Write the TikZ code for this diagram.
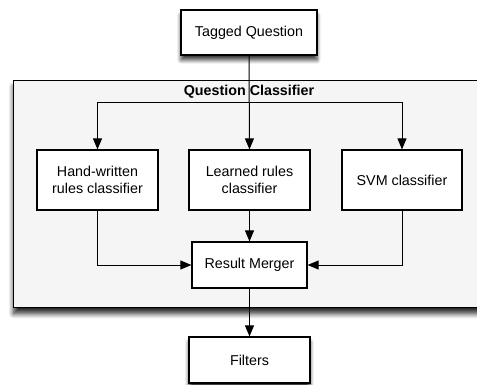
\documentclass[tikz,border=0pt]{standalone}
\usepackage{fontspec}
\setmainfont{Liberation Sans}
\usetikzlibrary{arrows.meta,shadows,shadows.blur}
\begin{document}
\begin{tikzpicture}[x=1pt,y=-1pt,
  box/.style={draw=black,line width=1.2pt,fill=white,inner sep=0pt,align=center,
    font=\fontsize{14.3}{17}\selectfont},
  shbox/.style={box,blur shadow={shadow xshift=0pt,shadow yshift=-5pt,shadow blur steps=6,shadow opacity=80,shadow blur radius=4pt}},
  conn/.style={line width=1pt,-{Triangle[width=9pt,length=11pt]}}]
\useasboundingbox (0,0) rectangle (477,385);
\clip (0,0) rectangle (477,385);
% container
\node[draw=black,line width=1.2pt,fill=black!4,minimum width=480pt,minimum height=227pt,anchor=north west,inner sep=0pt,
  blur shadow={shadow xshift=0pt,shadow yshift=-6pt,shadow blur steps=8,shadow opacity=85,shadow blur radius=5pt}] (qc) at (13,80) {};
\node[font=\bfseries\fontsize{14.3}{17}\selectfont] (title) at (249,92) {Question Classifier};
% nodes
\node[shbox,minimum width=136pt,minimum height=45pt] (tq) at (249,32.5) {Tagged Question};
\node[box,minimum width=121pt,minimum height=60pt] (hw) at (97.5,180) {Hand-written\\rules classifier};
\node[box,minimum width=121pt,minimum height=60pt] (lr) at (249.5,180) {Learned rules\\classifier};
\node[box,minimum width=120pt,minimum height=60pt] (svm) at (402,180) {SVM classifier};
\node[box,minimum width=115pt,minimum height=46pt] (rm) at (249.5,265) {Result Merger};
\node[shbox,minimum width=121pt,minimum height=46pt] (fi) at (249.5,360) {Filters};
\coordinate (split) at (249,103);
% connectors
\draw[conn] (tq.south) -- (lr.north);
\draw[conn] (split) -| (hw.north);
\draw[conn] (split) -| (svm.north);
\draw[conn] (lr.south) -- (rm.north);
\draw[conn] (hw.south) |- (rm.west);
\draw[conn] (svm.south) |- (rm.east);
\draw[conn] (rm.south) -- (fi.north);
\end{tikzpicture}
\end{document}
